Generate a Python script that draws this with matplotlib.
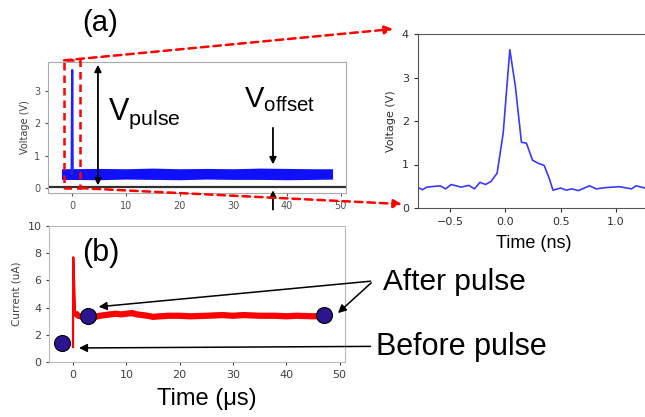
import matplotlib
matplotlib.use('Agg')
import matplotlib.pyplot as plt
from matplotlib.patches import Rectangle, ConnectionPatch

plt.rcParams['mathtext.fontset'] = 'custom'
plt.rcParams['mathtext.rm'] = 'Liberation Sans'
BIG = 'Liberation Sans'

# (a) full trace: baseline band and the pulse spike
band_x = [-2.0, 5, 10, 15, 20, 25, 30, 35, 40, 45, 48.5]
band_lo = [0.27, 0.26, 0.28, 0.27, 0.26, 0.28, 0.27, 0.27, 0.26, 0.27, 0.28]
band_hi = [0.60, 0.61, 0.60, 0.62, 0.60, 0.61, 0.60, 0.62, 0.61, 0.60, 0.60]
spike_x = [-0.1, 0.0, 0.1]
spike_y = [0.45, 3.65, 0.45]

# (a) zoomed pulse (ns, V)
pulse_t = [-0.795, -0.75, -0.71, -0.59, -0.54, -0.49, -0.40, -0.33, -0.28, -0.23,
           -0.18, -0.13, -0.075, -0.02, 0.04, 0.09, 0.145, 0.19, 0.245, 0.295,
           0.35, 0.395, 0.43, 0.50, 0.55, 0.60, 0.66, 0.76, 0.82, 0.91, 1.03,
           1.14, 1.18, 1.26, 1.31]
pulse_v = [0.48, 0.42, 0.48, 0.51, 0.44, 0.54, 0.48, 0.52, 0.44, 0.59,
           0.54, 0.61, 0.80, 1.72, 3.64, 2.80, 1.51, 1.49, 1.10, 1.03,
           0.98, 0.69, 0.41, 0.46, 0.41, 0.44, 0.40, 0.51, 0.44, 0.47, 0.49,
           0.44, 0.51, 0.46, 0.48]

# (b) current trace (us, uA)
cur_spike_t = [0.0, 0.0, 0.05, 0.4]
cur_spike_i = [1.1, 1.1, 7.7, 3.6]
cur_t = [0.4, 1, 2, 3, 4, 5, 6, 7, 8, 9, 10, 11, 12, 13, 14, 15, 16, 18, 20,
         22, 25, 28, 30, 32, 35, 38, 40, 42, 45, 48]
cur_i = [3.6, 3.4, 3.3, 3.25, 3.3, 3.4, 3.45, 3.5, 3.55, 3.5, 3.55, 3.6, 3.5,
         3.45, 3.4, 3.32, 3.35, 3.4, 3.4, 3.36, 3.4, 3.45, 3.4, 3.45, 3.4,
         3.4, 3.36, 3.4, 3.36, 3.4]
dots_t = [-2.0, 2.8, 47.0]
dots_i = [1.4, 3.4, 3.45]

W, H = 645, 417
fig = plt.figure(figsize=(6.45, 4.17), dpi=100)


def px_axes(l, t, r, b):
    return fig.add_axes([l / W, 1 - b / H, (r - l) / W, (b - t) / H])


# ---- panel (a) overview ----
ax_a = px_axes(48, 62, 346, 193)
ax_a.fill_between(band_x, band_lo, band_hi, color='#1010ff', lw=0)
ax_a.plot(spike_x, spike_y, color='#2020ff', lw=1.6)
ax_a.axhline(0.05, color='#303030', lw=1.6)
ax_a.set_xlim(-4.5, 51)
ax_a.set_ylim(-0.15, 3.9)
ax_a.set_xticks(range(0, 51, 10))
ax_a.set_yticks([0, 1, 2, 3])
ax_a.tick_params(labelsize=7, colors='#505050', length=2)
ax_a.set_ylabel('Voltage (V)', fontsize=7, color='#404040', labelpad=3)
for s in ax_a.spines.values():
    s.set_color('#aaaaaa')

ax_a.add_patch(Rectangle((-1.5, 0.0), 3.0, 3.95, fill=False, ec='red',
                         ls=(0, (3, 2)), lw=1.8, clip_on=False, zorder=5))
ax_a.annotate('', xy=(4.8, 3.9), xytext=(4.8, 0.0),
              arrowprops=dict(arrowstyle='<|-|>', color='black', lw=1.3,
                              mutation_scale=10),
              annotation_clip=False)
ax_a.text(6.7, 2.3, r'V$_{\mathregular{pulse}}$', fontsize=22, family=BIG,
          va='center', ha='left')
ax_a.text(32.0, 2.75, r'V$_{\mathregular{offset}}$', fontsize=21, family=BIG,
          va='center', ha='left')
ax_a.annotate('', xy=(37.4, 0.65), xytext=(37.4, 1.95),
              arrowprops=dict(arrowstyle='-|>', color='black', lw=1.3,
                              mutation_scale=10))
ax_a.annotate('', xy=(37.4, 0.02), xytext=(37.4, -0.75),
              arrowprops=dict(arrowstyle='-|>', color='black', lw=1.3,
                              mutation_scale=10),
              annotation_clip=False)
fig.text(100 / W, 1 - 23 / H, '(a)', fontsize=21, family=BIG,
         ha='center', va='center')

# ---- zoomed pulse ----
ax_r = px_axes(418, 34, 650, 208)
ax_r.plot(pulse_t, pulse_v, color='#3a3aff', lw=1.2)
ax_r.set_xlim(-0.79, 1.307)
ax_r.set_ylim(0, 4)
ax_r.set_xticks([-0.5, 0.0, 0.5, 1.0])
ax_r.set_yticks([0, 1, 2, 3, 4])
ax_r.tick_params(labelsize=8, colors='#303030', length=3)
ax_r.set_ylabel('Voltage (V)', fontsize=8, color='#303030', labelpad=4)
ax_r.set_xlabel('Time (ns)', fontsize=13, family=BIG, labelpad=6)
for s in ax_r.spines.values():
    s.set_color('#555555')

for (xa, ya), (xb, yb) in [((-1.5, 3.95), (-1.016, 4.115)),
                           ((1.5, 0.0), (-0.935, 0.09))]:
    con = ConnectionPatch(xyA=(xa, ya), coordsA=ax_a.transData,
                          xyB=(xb, yb), coordsB=ax_r.transData,
                          arrowstyle='-|>', color='red', lw=1.8,
                          ls=(0, (3, 2)), mutation_scale=12)
    con.set_annotation_clip(False)
    fig.add_artist(con)

# ---- panel (b) current ----
ax_b = px_axes(49, 226, 345, 362)
ax_b.plot(cur_spike_t, cur_spike_i, color='red', lw=1.6)
ax_b.plot(cur_t, cur_i, color='red', lw=4.5, solid_capstyle='butt')
ax_b.plot(dots_t, dots_i, 'o', ms=11.5, mfc='#2d1491', mec='black', mew=0.8,
          clip_on=False, zorder=6)
ax_b.set_xlim(-4.5, 51)
ax_b.set_ylim(0, 10)
ax_b.set_xticks(range(0, 51, 10))
ax_b.set_yticks(range(0, 11, 2))
ax_b.tick_params(labelsize=8, colors='#404040', length=2)
ax_b.set_ylabel('Current (uA)', fontsize=7.5, color='#404040', labelpad=4)
ax_b.set_xlabel('Time (\u03bcs)', fontsize=17, family=BIG)
ax_b.xaxis.set_label_coords(0.534, -0.19)
for s in ax_b.spines.values():
    s.set_color('#bbbbbb')
ax_b.text(1.7, 8.0, '(b)', fontsize=22, family=BIG, va='center', ha='left')

arrow_kw = dict(arrowstyle='-|>', color='black', lw=1.1, mutation_scale=12)
for tip in [(4.3, 4.04), (49.3, 3.46)]:
    ax_b.annotate('', xy=tip, xytext=(56.3, 5.96), arrowprops=arrow_kw,
                  annotation_clip=False)
ax_b.annotate('', xy=(0.6, 1.03), xytext=(56.3, 1.15), arrowprops=arrow_kw,
              annotation_clip=False)
ax_b.text(58.2, 5.9, 'After pulse', fontsize=21.5, family=BIG, va='center',
          ha='left', clip_on=False)
ax_b.text(56.9, 1.1, 'Before pulse', fontsize=22, family=BIG, va='center',
          ha='left', clip_on=False)

fig.savefig('out.png', dpi=100)
